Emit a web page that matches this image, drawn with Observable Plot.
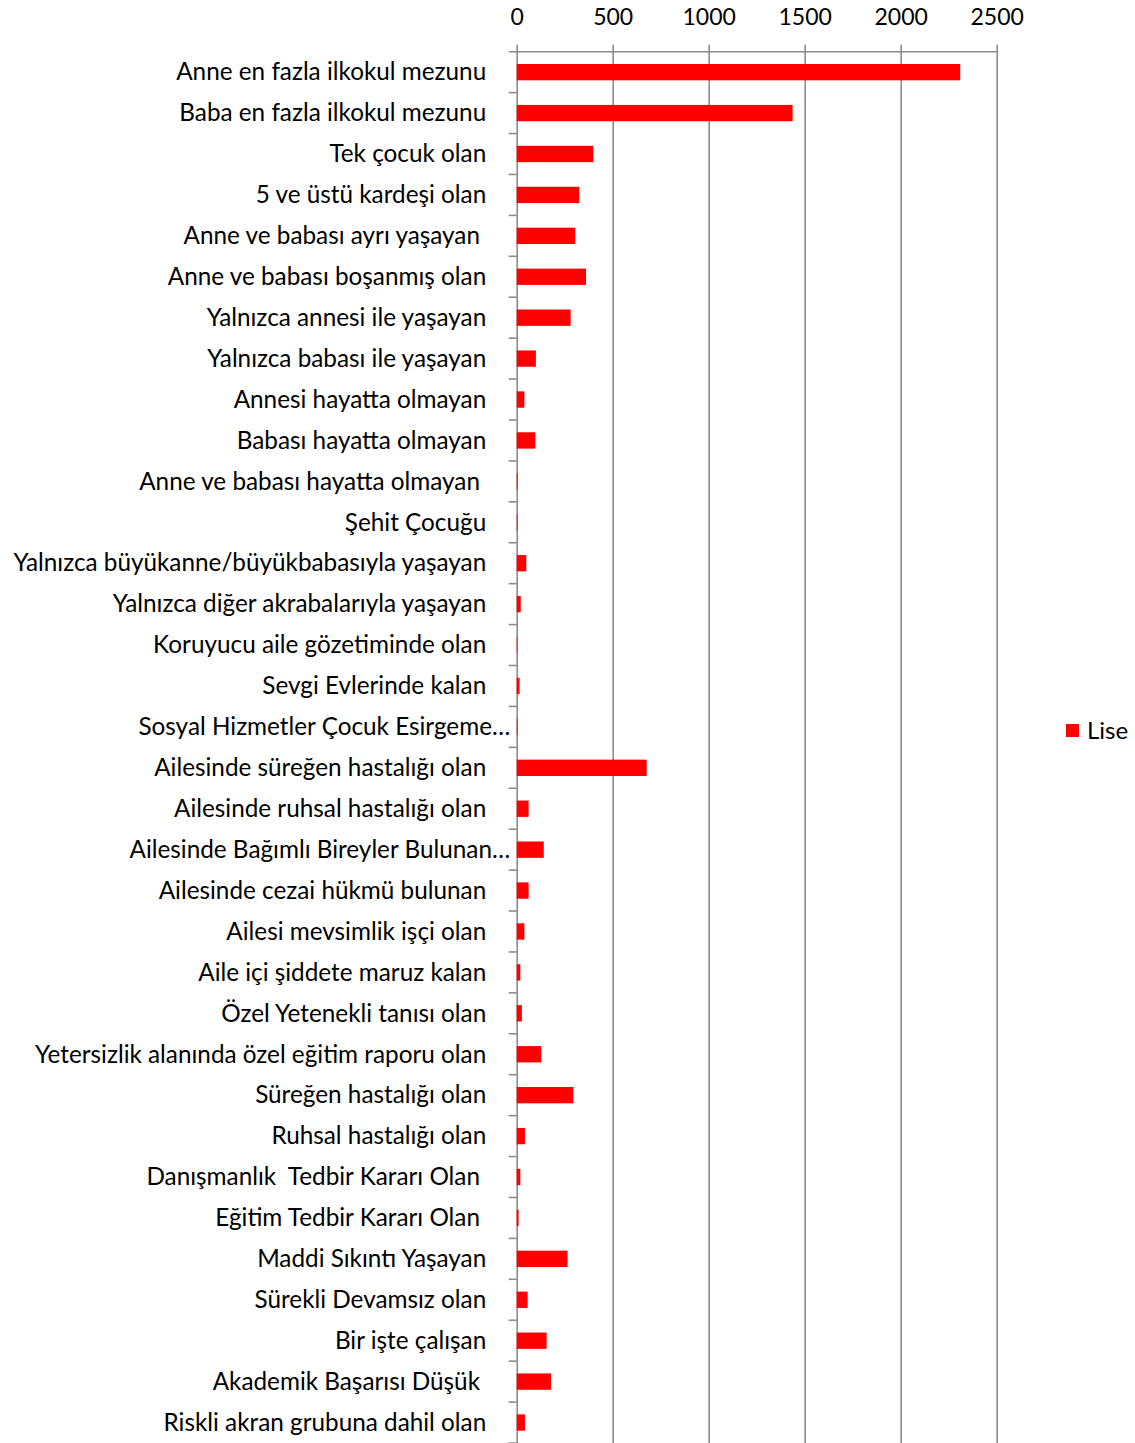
<!DOCTYPE html>
<html><head><meta charset="utf-8">
<script src="https://cdn.jsdelivr.net/npm/d3@7"></script>
<script src="https://cdn.jsdelivr.net/npm/@observablehq/plot@0.6"></script>
<style>
body{margin:0;background:#fff;}
#wrap{position:relative;width:1135px;height:1443px;overflow:hidden;background:#fff;}
svg text{white-space:pre;}
#legend{position:absolute;left:1066px;top:718px;font-family:Lato,sans-serif;font-size:24px;line-height:24px;display:flex;align-items:center;color:#000;}
#legend .sw{display:inline-block;width:13px;height:13px;background:#ff0000;margin-right:8px;}
</style></head><body><div id="wrap"></div>
<script>
const categories = [
  "Anne en fazla ilkokul mezunu",
  "Baba en fazla ilkokul mezunu",
  "Tek çocuk olan",
  "5 ve üstü kardeşi olan",
  "Anne ve babası ayrı yaşayan ",
  "Anne ve babası boşanmış olan",
  "Yalnızca annesi ile yaşayan",
  "Yalnızca babası ile yaşayan",
  "Annesi hayatta olmayan",
  "Babası hayatta olmayan",
  "Anne ve babası hayatta olmayan ",
  "Şehit Çocuğu",
  "Yalnızca büyükanne/büyükbabasıyla yaşayan",
  "Yalnızca diğer akrabalarıyla yaşayan",
  "Koruyucu aile gözetiminde olan",
  "Sevgi Evlerinde kalan",
  "Sosyal Hizmetler Çocuk Esirgeme…",
  "Ailesinde süreğen hastalığı olan",
  "Ailesinde ruhsal hastalığı olan",
  "Ailesinde Bağımlı Bireyler Bulunan…",
  "Ailesinde cezai hükmü bulunan",
  "Ailesi mevsimlik işçi olan",
  "Aile içi şiddete maruz kalan",
  "Özel Yetenekli tanısı olan",
  "Yetersizlik alanında özel eğitim raporu olan",
  "Süreğen hastalığı olan",
  "Ruhsal hastalığı olan",
  "Danışmanlık  Tedbir Kararı Olan ",
  "Eğitim Tedbir Kararı Olan ",
  "Maddi Sıkıntı Yaşayan",
  "Sürekli Devamsız olan",
  "Bir işte çalışan",
  "Akademik Başarısı Düşük ",
  "Riskli akran grubuna dahil olan"
];
const lise = [2310, 1437, 399, 326, 305, 361, 281, 100, 40, 97, 5, 4, 50, 21, 3, 15, 4, 677, 62, 141, 62, 40, 19, 27, 128, 295, 43, 19, 10, 265, 57, 156, 179, 43];
const xTicks = [0, 500, 1000, 1500, 2000, 2500];
const seriesName = "Lise";

const data = categories.map((c, i) => ({category: c, value: lise[i]}));
const isTrunc = d => d.category.endsWith("…");
const gridColor = "#8c8c8c";

const chart = Plot.plot({
  width: 1135, height: 1443,
  marginLeft: 516.7, marginRight: 138.3, marginTop: 51.7, marginBottom: 0,
  style: {fontFamily: "Lato, sans-serif", fontSize: "24px", background: "white", color: "black", overflow: "visible"},
  x: {domain: [0, 2500], axis: null, label: null},
  y: {domain: categories, padding: 0, axis: null, label: null},
  marks: [
    Plot.ruleX(xTicks, {stroke: gridColor, strokeWidth: 1.6}),
    Plot.axisX(xTicks, {anchor: "top", label: null, tickFormat: d => String(d), tickSize: 8, tickPadding: 19, stroke: gridColor, strokeWidth: 1.6, fill: "black", fontSize: 23}),
    Plot.barX(data, {x: "value", y: "category", fill: "#ff0000", insetTop: 12.3, insetBottom: 12.3}),
    Plot.text(data, {filter: d => !isTrunc(d), y: "category", text: "category", frameAnchor: "left", textAnchor: "end", dx: -31, fill: "black", fontSize: 24.3}),
    Plot.text(data, {filter: isTrunc, y: "category", text: "category", frameAnchor: "left", textAnchor: "end", dx: -7, fill: "black", fontSize: 24.3})
  ]
});

const xs = chart.scale("x"), ys = chart.scale("y");
const svg = d3.select(chart);
const x0 = xs.apply(0), x1 = xs.apply(xTicks[xTicks.length - 1]);
const yTop = ys.apply(categories[0]);
const g = svg.append("g").attr("stroke", gridColor).attr("stroke-width", 1.6);
g.append("line").attr("x1", x0 - 8).attr("x2", x1).attr("y1", yTop).attr("y2", yTop);
categories.forEach(c => {
  const yb = ys.apply(c) + ys.bandwidth;
  g.append("line").attr("x1", x0 - 8).attr("x2", x0).attr("y1", yb).attr("y2", yb);
});

const wrap = document.getElementById("wrap");
wrap.appendChild(chart);
const legend = document.createElement("div");
legend.id = "legend";
legend.innerHTML = '<span class="sw"></span><span></span>';
legend.lastChild.textContent = seriesName;
wrap.appendChild(legend);
</script>
</body></html>
